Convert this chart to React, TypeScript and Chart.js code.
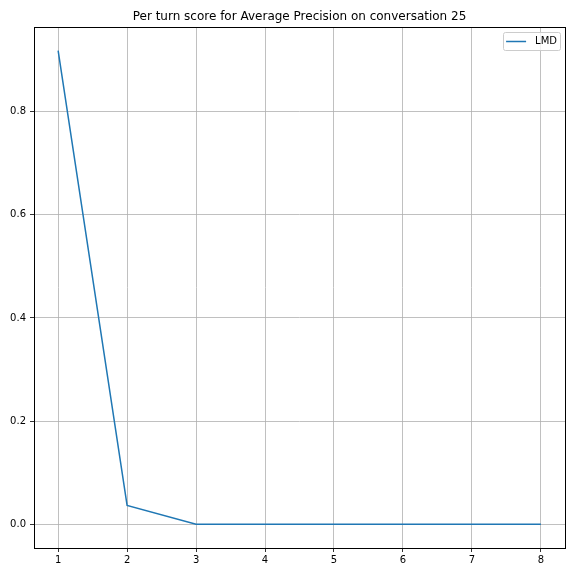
import React, { useEffect, useRef } from "react";
import { Chart, registerables } from "chart.js";

Chart.register(...registerables);

const turns = [1, 2, 3, 4, 5, 6, 7, 8];
const lmdScores = [0.918, 0.0365, 0, 0, 0, 0, 0, 0];
const xTicks = [1, 2, 3, 4, 5, 6, 7, 8];
const yTicks = [0, 0.2, 0.4, 0.6, 0.8];
const seriesName = "LMD";
const titleText = "Per turn score for Average Precision on conversation 25";

const FONT = '"DejaVu Sans", sans-serif';

const framePlugin = {
  id: "frame",
  afterDatasetsDraw(chart: any) {
    const { ctx, chartArea } = chart;
    const { left, right, top, bottom } = chartArea;
    ctx.save();
    // frame
    ctx.strokeStyle = "#000";
    ctx.lineWidth = 1;
    ctx.strokeRect(Math.round(left) + 0.5, Math.round(top) + 0.5, Math.round(right - left), Math.round(bottom - top));
    // legend
    ctx.font = `10px ${FONT}`;
    const tw = ctx.measureText(seriesName).width;
    const boxW = 32 + tw + 3;
    const boxH = 18;
    const bx = right - 5 - boxW;
    const by = top + 5;
    ctx.fillStyle = "rgba(255,255,255,0.8)";
    ctx.strokeStyle = "#cccccc";
    ctx.lineWidth = 1;
    ctx.beginPath();
    (ctx as any).roundRect(Math.round(bx) + 0.5, Math.round(by) + 0.5, Math.round(boxW), boxH, 2);
    ctx.fill();
    ctx.stroke();
    const ly = by + boxH / 2 + 0.5;
    ctx.strokeStyle = "#1f77b4";
    ctx.lineWidth = 1.5;
    ctx.beginPath();
    ctx.moveTo(bx + 3, ly);
    ctx.lineTo(bx + 23, ly);
    ctx.stroke();
    ctx.fillStyle = "#000";
    ctx.textAlign = "left";
    ctx.textBaseline = "middle";
    ctx.fillText(seriesName, bx + 32, ly);
    // title
    ctx.font = `12px ${FONT}`;
    ctx.textAlign = "center";
    ctx.fillText(titleText, (left + right) / 2, 16.5);
    ctx.restore();
  },
};

export default function App() {
  const ref = useRef<HTMLCanvasElement>(null);
  useEffect(() => {
    if (!ref.current) return;
    const chart = new Chart(ref.current, {
      type: "line",
      data: {
        datasets: [
          {
            label: seriesName,
            data: turns.map((t, i) => ({ x: t, y: lmdScores[i] })),
            borderColor: "#1f77b4",
            borderWidth: 1.5,
            pointRadius: 0,
            tension: 0,
            fill: false,
          },
        ],
      },
      options: {
        responsive: false,
        animation: false,
        layout: { padding: { top: 27, right: 11, left: 0, bottom: 0 } },
        plugins: {
          legend: { display: false },
          title: { display: false },
          tooltip: { enabled: false },
        },
        scales: {
          x: {
            type: "linear",
            min: 0.65,
            max: 8.35,
            afterBuildTicks: (s: any) => {
              s.ticks = xTicks.map((v) => ({ value: v }));
            },
            afterFit: (s: any) => {
              s.height = 28;
            },
            grid: { color: "#b0b0b0", lineWidth: 0.8, tickColor: "#000", tickLength: 4 },
            border: { display: false },
            ticks: {
              color: "#000",
              font: { family: FONT, size: 10 },
              padding: 2,
              maxRotation: 0,
              callback: (v: any) => String(v),
            },
          },
          y: {
            type: "linear",
            min: -0.0459,
            max: 0.9639,
            afterBuildTicks: (s: any) => {
              s.ticks = yTicks.map((v) => ({ value: v }));
            },
            afterFit: (s: any) => {
              s.width = 34;
            },
            grid: { color: "#b0b0b0", lineWidth: 0.8, tickColor: "#000", tickLength: 4 },
            border: { display: false },
            ticks: {
              color: "#000",
              font: { family: FONT, size: 10 },
              padding: 4,
              callback: (v: any) => Number(v).toFixed(1),
            },
          },
        },
      },
      plugins: [framePlugin],
    });
    return () => chart.destroy();
  }, []);
  return (
    <div style={{ position: "absolute", left: 0, top: 0, width: 576, height: 576, background: "#fff" }}>
      <canvas ref={ref} width={576} height={576} style={{ display: "block" }} />
    </div>
  );
}
